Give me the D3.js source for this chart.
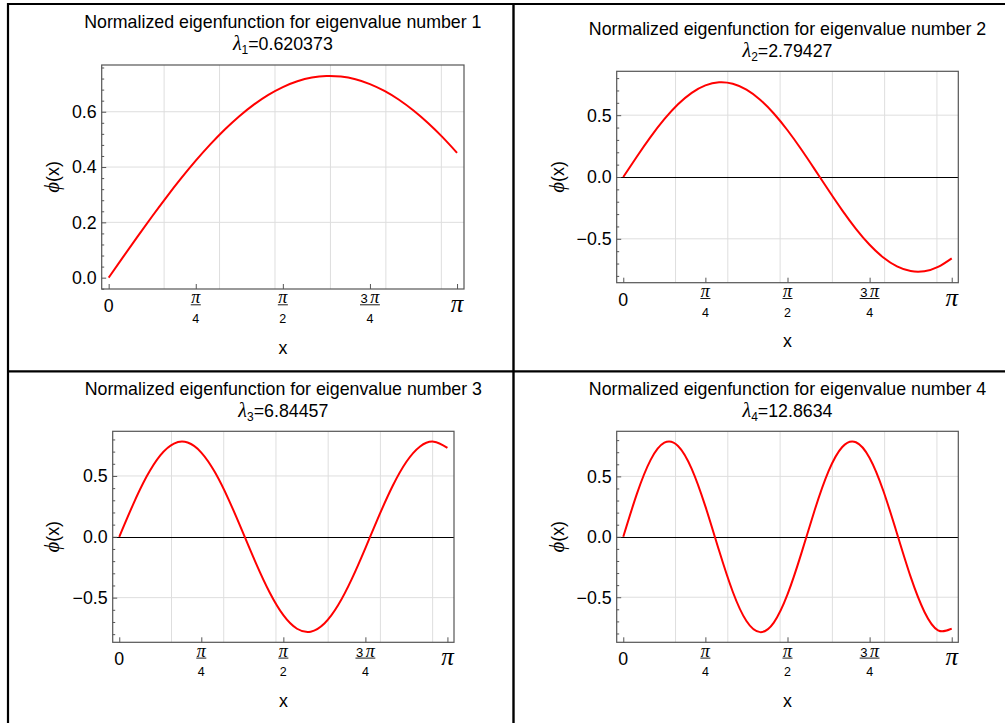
<!DOCTYPE html>
<html><head><meta charset="utf-8">
<script src="https://cdn.jsdelivr.net/npm/d3@7"></script>
<style>
body{margin:0;background:#fff;}
svg{display:block;}
text{font-family:"Liberation Sans",Arial,sans-serif;fill:#000;}
</style></head><body>
<svg id="c" width="1005" height="723"></svg>
<script>
// ---------- data ----------
const xs = [0, 0.1309, 0.2618, 0.3927, 0.5236, 0.6545, 0.7854, 0.9163, 1.0472, 1.1781, 1.3090, 1.4399,
  1.5708, 1.7017, 1.8326, 1.9635, 2.0944, 2.2253, 2.3562, 2.4871, 2.6180, 2.7489, 2.8798, 3.0107, 3.1416];
const phi1 = [0, 0.0751, 0.1494, 0.2221, 0.2924, 0.3596, 0.4230, 0.4819, 0.5358, 0.5839, 0.6258, 0.6610,
  0.6893, 0.7102, 0.7236, 0.7293, 0.7272, 0.7175, 0.7001, 0.6752, 0.6433, 0.6044, 0.5592, 0.5080, 0.4514];
const phi2 = [0, 0.1664, 0.3248, 0.4677, 0.5883, 0.6810, 0.7411, 0.7658, 0.7541, 0.7063, 0.6250, 0.5138,
  0.3781, 0.2244, 0.0600, -0.1074, -0.2696, -0.4188, -0.5482, -0.6514, -0.7235, -0.7611, -0.7625, -0.7274, -0.6578];
const phi3 = [0, 0.2627, 0.4948, 0.6695, 0.7665, 0.7744, 0.6924, 0.5300, 0.3060, 0.0465, -0.2184, -0.4580,
  -0.6443, -0.7558, -0.7796, -0.7128, -0.5632, -0.3482, -0.0928, 0.1734, 0.4195, 0.6168, 0.7425, 0.7820, 0.7307];
const phi4 = [0, 0.3569, 0.6366, 0.7785, 0.7520, 0.5627, 0.2517, -0.1138, -0.4547, -0.6972, -0.7888, -0.7097,
  -0.4770, -0.1411, 0.2254, 0.5430, 0.7432, 0.7825, 0.6525, 0.3813, 0.0276, -0.3321, -0.6199, -0.7736, -0.7599];
const eigenNumbers = [1, 2, 3, 4];
const eigenvalues = ["0.620373", "2.79427", "6.84457", "12.8634"];
const yTicksFirst = [0, 0.2, 0.4, 0.6];
const yTickLabelsFirst = ["0.0", "0.2", "0.4", "0.6"];
const yTicksOther = [-0.5, 0, 0.5];
const yTickLabelsOther = ["\u22120.5", "0.0", "0.5"];
const xTickValues = [0, Math.PI / 4, Math.PI / 2, 3 * Math.PI / 4, Math.PI];
const xTickNumerators = ["0", "\u03c0", "\u03c0", "3 \u03c0", "\u03c0"];
const xTickDenominators = ["", "4", "2", "4", ""];
const gridXValues = [0.5, 1, 1.5, 2, 2.5, 3];

// ---------- layout ----------
const panels = [
  {series: phi1, L: 101.7, R: 464, T: 65, B: 289, t1: 28, t2: 49.5, yDom: [-0.041, 0.769], ylabX: 52.5,
   ticks: yTicksFirst, labels: yTickLabelsFirst, minorStep: 0.04, minorRange: [-0.04, 0.76], gridY: [0.2, 0.4, 0.6], zero: false},
  {series: phi2, L: 616.7, R: 958.3, T: 71.3, B: 282.7, t1: 35, t2: 56.5, yDom: [-0.855, 0.855], ylabX: 557.3,
   ticks: yTicksOther, labels: yTickLabelsOther, minorStep: 0.1, minorRange: [-0.8, 0.8], gridY: [-0.5, 0.5], zero: true},
  {series: phi3, L: 112.7, R: 454, T: 431.3, B: 642.3, t1: 395, t2: 417, yDom: [-0.867, 0.867], ylabX: 52.3,
   ticks: yTicksOther, labels: yTickLabelsOther, minorStep: 0.1, minorRange: [-0.8, 0.8], gridY: [-0.5, 0.5], zero: true},
  {series: phi4, L: 616.7, R: 958.3, T: 431.3, B: 642.3, t1: 395, t2: 417, yDom: [-0.873, 0.873], ylabX: 557.3,
   ticks: yTicksOther, labels: yTickLabelsOther, minorStep: 0.1, minorRange: [-0.8, 0.8], gridY: [-0.5, 0.5], zero: true}
];

const svg = d3.select("#c");
const FS = 17.8;
const SERIF = "'Liberation Serif','Times New Roman',serif";
const frameColor = "#555555";
const gridColor = "#dedede";

panels.forEach((p, i) => {
  const g = svg.append("g");
  const x = d3.scaleLinear().domain([-0.02 * Math.PI, 1.02 * Math.PI]).range([p.L, p.R]);
  const y = d3.scaleLinear().domain(p.yDom).range([p.B, p.T]);
  const cx = (p.L + p.R) / 2;

  // grid
  g.selectAll(".gx").data(gridXValues).enter().append("line")
    .attr("x1", d => x(d)).attr("x2", d => x(d)).attr("y1", p.T).attr("y2", p.B)
    .attr("stroke", gridColor).attr("stroke-width", 1);
  g.selectAll(".gy").data(p.gridY).enter().append("line")
    .attr("x1", p.L).attr("x2", p.R).attr("y1", d => y(d)).attr("y2", d => y(d))
    .attr("stroke", gridColor).attr("stroke-width", 1);

  // zero axis
  if (p.zero) {
    const y0 = Math.round(y(0)) + 0.5;
    g.append("line").attr("x1", p.L).attr("x2", p.R).attr("y1", y0).attr("y2", y0)
      .attr("stroke", "#000").attr("stroke-width", 1);
  }

  // curve
  const line = d3.line().x((d, k) => x(xs[k])).y(d => y(d)).curve(d3.curveNatural);
  g.append("path").datum(p.series).attr("d", line)
    .attr("fill", "none").attr("stroke", "#ff0000").attr("stroke-width", 2);

  // frame
  g.append("rect").attr("x", p.L).attr("y", p.T).attr("width", p.R - p.L).attr("height", p.B - p.T)
    .attr("fill", "none").attr("stroke", frameColor).attr("stroke-width", 1.2);

  // y axis ticks (left) via d3 axis
  const yAxis = d3.axisRight(y).tickValues(p.ticks).tickSize(4.5).tickFormat("");
  const ya = g.append("g").attr("transform", `translate(${p.L},0)`).call(yAxis);
  ya.select(".domain").remove();
  ya.selectAll("line").attr("stroke", frameColor);
  const minors = d3.range(Math.round(p.minorRange[0] / p.minorStep), Math.round(p.minorRange[1] / p.minorStep) + 1)
    .map(k => +(k * p.minorStep).toFixed(3)).filter(v => !p.ticks.some(t => Math.abs(t - v) < 1e-6));
  const yMinor = d3.axisRight(y).tickValues(minors).tickSize(2.5).tickFormat("");
  const ym = g.append("g").attr("transform", `translate(${p.L},0)`).call(yMinor);
  ym.select(".domain").remove();
  ym.selectAll("line").attr("stroke", frameColor);

  // y tick labels
  g.selectAll(".yl").data(p.ticks).enter().append("text")
    .attr("x", p.L - 5).attr("y", d => y(d)).attr("dy", "0.36em")
    .attr("text-anchor", "end").attr("font-size", FS)
    .text((d, k) => p.labels[k]);

  // x ticks
  const xAxis = d3.axisTop(x).tickValues(xTickValues).tickSize(5).tickFormat("");
  const xa = g.append("g").attr("transform", `translate(0,${p.B})`).call(xAxis);
  xa.select(".domain").remove();
  xa.selectAll("line").attr("stroke", frameColor);

  // x tick labels
  xTickValues.forEach((v, k) => {
    const xp = x(v);
    const num = xTickNumerators[k], den = xTickDenominators[k];
    if (!den) {
      if (num === "0") {
        g.append("text").attr("x", xp).attr("y", p.B + 23).attr("text-anchor", "middle")
          .attr("font-size", FS).text(num);
      } else {
        g.append("text").attr("x", xp).attr("y", p.B + 23).attr("text-anchor", "middle")
          .attr("font-size", 25).attr("font-style", "italic")
          .style("font-family", SERIF).text(num);
      }
    } else {
      const t = g.append("text").attr("x", xp).attr("y", p.B + 14.3).attr("text-anchor", "middle")
        .attr("font-size", 13);
      const parts = num.split(" ");
      if (parts.length > 1) {
        t.append("tspan").text(parts[0] + "\u2009");
      }
      t.append("tspan").attr("font-style", "italic")
        .style("font-family", SERIF).attr("font-size", 18)
        .text(parts[parts.length - 1]);
      const w = t.node().getComputedTextLength();
      g.append("line").attr("x1", xp - w / 2 - 0.5).attr("x2", xp + w / 2 + 0.5)
        .attr("y1", p.B + 15.8).attr("y2", p.B + 15.8).attr("stroke", "#000").attr("stroke-width", 0.9);
      g.append("text").attr("x", xp).attr("y", p.B + 33.8).attr("text-anchor", "middle")
        .attr("font-size", 12.5).text(den);
    }
  });

  // x label
  g.append("text").attr("x", cx).attr("y", p.B + 64.5).attr("text-anchor", "middle")
    .attr("font-size", FS).text("x");

  // y label
  const cy = (p.T + p.B) / 2;
  const yl = g.append("text").attr("transform", `translate(${p.ylabX},${cy}) rotate(-90)`)
    .attr("text-anchor", "middle").attr("dy", "0.35em").attr("font-size", FS);
  yl.append("tspan").attr("font-style", "italic")
    .style("font-family", SERIF).attr("font-size", 21).text("\u03d5");
  yl.append("tspan").text("(x)");

  // titles
  g.append("text").attr("x", cx).attr("y", p.t1).attr("text-anchor", "middle").attr("font-size", FS)
    .text("Normalized eigenfunction for eigenvalue number " + eigenNumbers[i]);
  const t2 = g.append("text").attr("x", cx).attr("y", p.t2).attr("text-anchor", "middle").attr("font-size", FS);
  t2.append("tspan").attr("font-style", "italic")
    .style("font-family", SERIF).attr("font-size", 20).text("\u03bb");
  t2.append("tspan").attr("font-size", 12).attr("dy", 4).text(eigenNumbers[i]);
  t2.append("tspan").attr("dy", -4).text("=" + eigenvalues[i]);
});

// outer grid frame lines
const borders = svg.append("g").attr("stroke", "#000").attr("fill", "none");
borders.append("line").attr("x1", 7).attr("x2", 1005).attr("y1", 4).attr("y2", 4).attr("stroke-width", 2.2);
borders.append("line").attr("x1", 8).attr("x2", 8).attr("y1", 3).attr("y2", 723).attr("stroke-width", 2.2);
borders.append("line").attr("x1", 513.5).attr("x2", 513.5).attr("y1", 3).attr("y2", 723).attr("stroke-width", 2.4);
borders.append("line").attr("x1", 7).attr("x2", 1005).attr("y1", 371.4).attr("y2", 371.4).attr("stroke-width", 2.4);
</script>
</body></html>
